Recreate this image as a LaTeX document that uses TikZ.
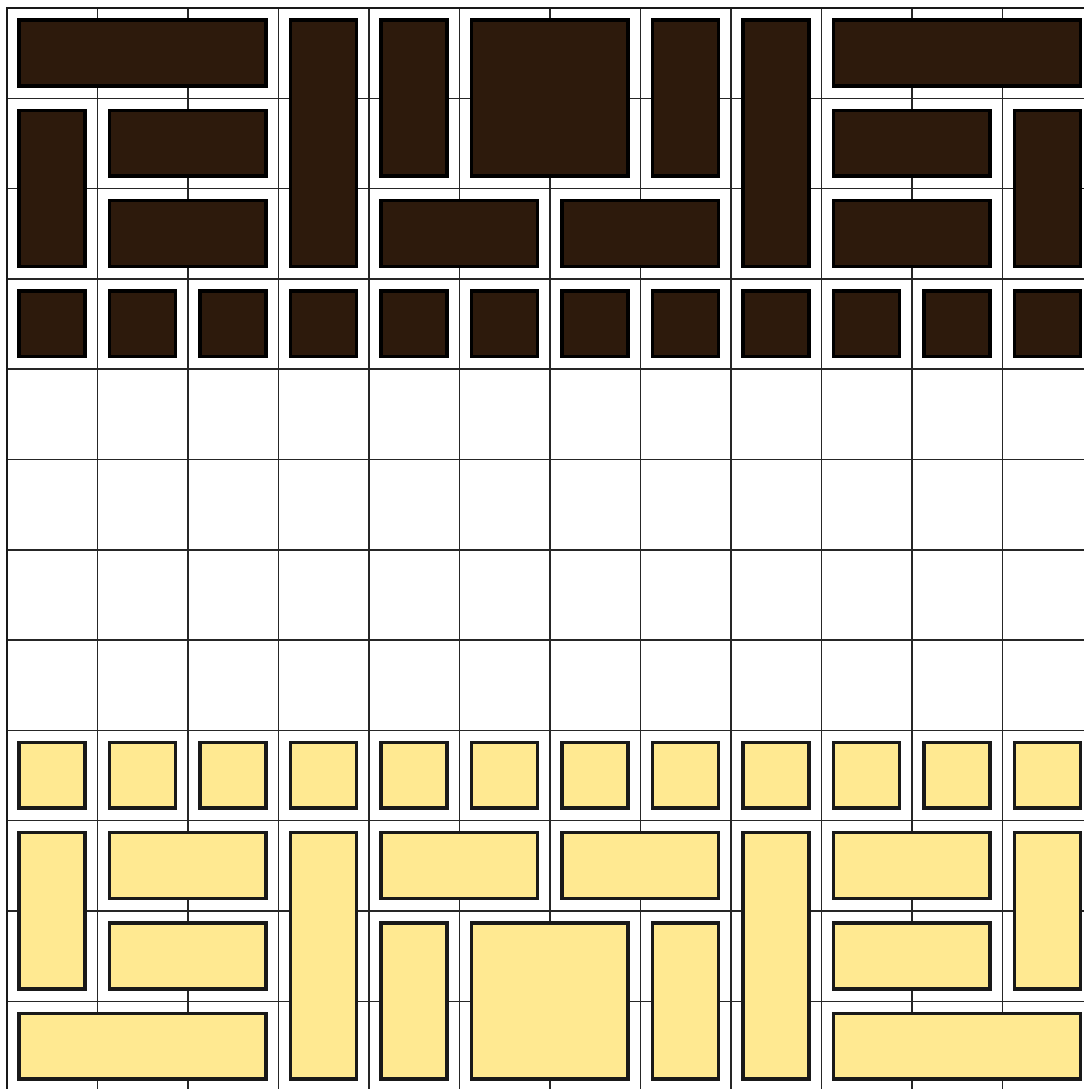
\documentclass[tikz,border=0pt]{standalone}
\usepackage{tikz}
\definecolor{darktile}{RGB}{45,26,12}
\definecolor{lighttile}{RGB}{255,233,145}
\tikzset{
  gridline/.style={line width=0.85pt, draw=black!85},
  frameline/.style={line width=1.6pt, draw=black!90},
  darkpiece/.style={fill=darktile, draw=black, line width=2pt},
  lightpiece/.style={fill=lighttile, draw=black!90, line width=2pt}
}
\newcommand\tileat[5]{\draw[#5] ({7+90.5*#1+12},{8+90.3*#2+12}) rectangle ({7+90.5*(#1+#3)-12.5},{8+90.3*(#2+#4)-12.5});}
\begin{document}
\begin{tikzpicture}[x=0.02cm,y=-0.02cm]
\useasboundingbox (0,0) rectangle (1084,1089);
\fill[white] (0,0) rectangle (1084,1089);
\begin{scope}
\clip (0,0) rectangle (1084,1089);
% grid
\foreach \c in {1,...,11} \draw[gridline] ({7+90.5*\c},8) -- ({7+90.5*\c},1089);
\foreach \r in {1,...,11} \draw[gridline] (7,{8+90.3*\r}) -- (1084,{8+90.3*\r});
\draw[frameline] (7,1089) -- (7,8) -- (1084,8);
% dark pieces (top)
\tileat{0}{0}{3}{1}{darkpiece}
\tileat{3}{0}{1}{3}{darkpiece}
\tileat{4}{0}{1}{2}{darkpiece}
\tileat{5}{0}{2}{2}{darkpiece}
\tileat{7}{0}{1}{2}{darkpiece}
\tileat{8}{0}{1}{3}{darkpiece}
\tileat{9}{0}{3}{1}{darkpiece}
\tileat{0}{1}{1}{2}{darkpiece}
\tileat{1}{1}{2}{1}{darkpiece}
\tileat{1}{2}{2}{1}{darkpiece}
\tileat{4}{2}{2}{1}{darkpiece}
\tileat{6}{2}{2}{1}{darkpiece}
\tileat{9}{1}{2}{1}{darkpiece}
\tileat{9}{2}{2}{1}{darkpiece}
\tileat{11}{1}{1}{2}{darkpiece}
\foreach \c in {0,...,11} {\tileat{\c}{3}{1}{1}{darkpiece}}
% light pieces (bottom)
\foreach \c in {0,...,11} {\tileat{\c}{8}{1}{1}{lightpiece}}
\tileat{0}{9}{1}{2}{lightpiece}
\tileat{1}{9}{2}{1}{lightpiece}
\tileat{3}{9}{1}{3}{lightpiece}
\tileat{4}{9}{2}{1}{lightpiece}
\tileat{6}{9}{2}{1}{lightpiece}
\tileat{8}{9}{1}{3}{lightpiece}
\tileat{9}{9}{2}{1}{lightpiece}
\tileat{11}{9}{1}{2}{lightpiece}
\tileat{1}{10}{2}{1}{lightpiece}
\tileat{4}{10}{1}{2}{lightpiece}
\tileat{5}{10}{2}{2}{lightpiece}
\tileat{7}{10}{1}{2}{lightpiece}
\tileat{9}{10}{2}{1}{lightpiece}
\tileat{0}{11}{3}{1}{lightpiece}
\tileat{9}{11}{3}{1}{lightpiece}
\end{scope}
\end{tikzpicture}
\end{document}
